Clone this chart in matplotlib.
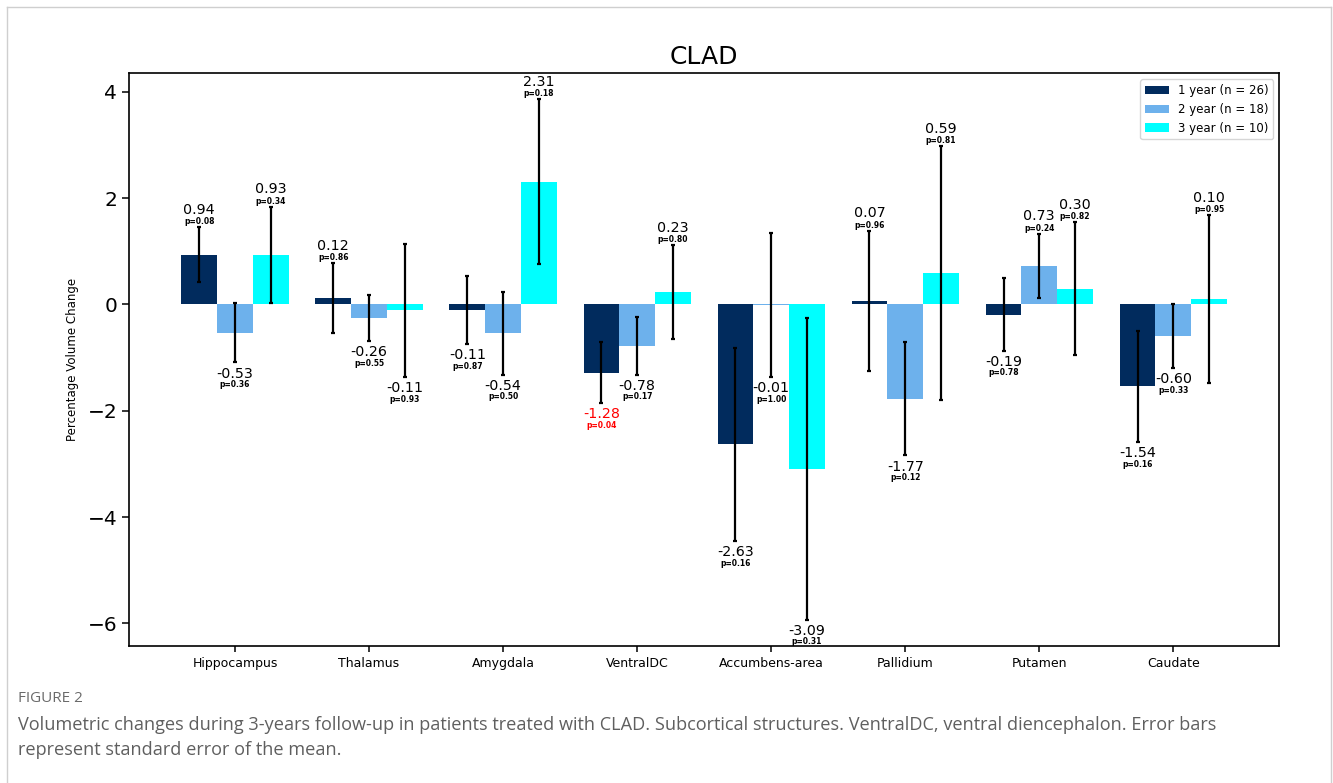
import numpy as np
import matplotlib
matplotlib.use('Agg')
import matplotlib.pyplot as plt
from matplotlib.lines import Line2D

# Структури та групи спостереження
categories = ['Hippocampus', 'Thalamus', 'Amygdala', 'VentralDC',
              'Accumbens-area', 'Pallidium', 'Putamen', 'Caudate']
groups = ['1 year (n = 26)', '2 year (n = 18)', '3 year (n = 10)']

# Середня зміна об'єму, %
y1 = [0.94, 0.12, -0.11, -1.28, -2.63, 0.07, -0.19, -1.54]
y2 = [-0.53, -0.26, -0.54, -0.78, -0.01, -1.77, 0.73, -0.60]
y3 = [0.93, -0.11, 2.31, 0.23, -3.09, 0.59, 0.30, 0.10]

# Стандартна похибка середнього
se1 = [0.52, 0.66, 0.64, 0.58, 1.82, 1.32, 0.68, 1.05]
se2 = [0.56, 0.43, 0.78, 0.54, 1.36, 1.07, 0.60, 0.60]
se3 = [0.91, 1.25, 1.55, 0.88, 2.84, 2.39, 1.25, 1.58]

# p-значення
p1 = [0.08, 0.86, 0.87, 0.04, 0.16, 0.96, 0.78, 0.16]
p2 = [0.36, 0.55, 0.50, 0.17, 1.00, 0.12, 0.24, 0.33]
p3 = [0.34, 0.93, 0.18, 0.80, 0.31, 0.81, 0.82, 0.95]

colors = ['#012b5d', '#6db1ec', '#00ffff']

fig = plt.figure(figsize=(13.33, 7.83), dpi=100)
ax = fig.add_axes([0.0968, 0.1753, 0.8629, 0.7311])

x = np.arange(len(categories))
width = 0.8 / 3
series = [(y1, se1, p1), (y2, se2, p2), (y3, se3, p3)]

for k, (vals, errs, pvals) in enumerate(series):
    pos = x + (k - 1) * width
    ax.bar(pos, vals, width, color=colors[k], label=groups[k])
    ax.errorbar(pos, vals, yerr=errs, fmt='none', ecolor='black',
                elinewidth=1.6, capsize=1.3, capthick=1.6)
    # Підписи значень та p над/під кінцем похибки
    for xi, v, e, p in zip(pos, vals, errs, pvals):
        col = 'red' if p < 0.05 else 'black'
        if v >= 0:
            end = v + e
            off_v, off_p = 12.5, 4.0
        else:
            end = v - e
            off_v, off_p = -8.0, -16.0
        ax.annotate(f'{v:.2f}', (xi, end), xytext=(0, off_v),
                    textcoords='offset points', ha='center', va='center',
                    fontsize=10.3, color=col)
        ax.annotate(f'p={p:.2f}', (xi, end), xytext=(0, off_p),
                    textcoords='offset points', ha='center', va='center',
                    fontsize=5.5, fontweight='bold', color=col)

ax.set_xticks(x)
ax.set_xticklabels(categories, fontsize=9)
ax.tick_params(axis='y', labelsize=14.5, length=5, width=1.1)
ax.tick_params(axis='x', length=4.5, width=1.1)
for s in ax.spines.values():
    s.set_linewidth(1.2)
ax.set_ylabel('Percentage Volume Change', fontsize=8.5, labelpad=6)
ax.set_title('CLAD', fontsize=18, pad=7)
ax.legend(loc='upper right', fontsize=8.5)

# Рамка рисунка
gray = '#cfcfcf'
fig.add_artist(Line2D([7/1333, 1331/1333], [1 - 7/783, 1 - 7/783],
                      transform=fig.transFigure, color=gray, lw=1))
fig.add_artist(Line2D([7/1333, 7/1333], [0, 1 - 7/783],
                      transform=fig.transFigure, color=gray, lw=1))
fig.add_artist(Line2D([1331/1333, 1331/1333], [0, 1 - 7/783],
                      transform=fig.transFigure, color=gray, lw=1))

# Підпис до рисунка
fig.text(18/1333, 1 - 699/783, 'FIGURE 2', fontsize=11, family='Open Sans',
         color='#6a6a6a', va='center')
fig.text(18/1333, 1 - 725/783,
         'Volumetric changes during 3-years follow-up in patients treated with CLAD. '
         'Subcortical structures. VentralDC, ventral diencephalon. Error bars',
         fontsize=13.1, family='Open Sans', color='#5f5f5f', va='center')
fig.text(18/1333, 1 - 750/783, 'represent standard error of the mean.',
         fontsize=13.1, family='Open Sans', color='#5f5f5f', va='center')

fig.savefig('out.png', dpi=100)
